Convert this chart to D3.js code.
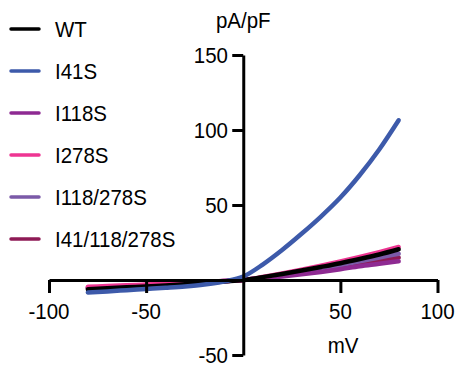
<!DOCTYPE html>
<html>
<head>
<meta charset="utf-8">
<script src="https://cdn.jsdelivr.net/npm/d3@7"></script>
<style>
  body { margin: 0; background: #fff; }
  svg text { font-family: "Liberation Sans", Arial, sans-serif; fill: #000; }
</style>
</head>
<body>
<svg id="chart" width="456" height="368"></svg>
<script>
// membrane potential (mV) at which each trace was read
const voltages = [-80, -70, -60, -50, -40, -30, -20, -10, 0, 10, 20, 30, 40, 50, 60, 70, 80];

// current density (pA/pF)
const wt        = [-6.2, -5.5, -4.9, -4.4, -3.7, -2.9, -2.0, -1.0, 0, 1.9, 4.0, 6.3, 8.7, 11.2, 14.0, 17.0, 20.5];
const i41s      = [-8.3, -7.6, -6.8, -6.0, -5.2, -4.3, -3.0, -1.0, 2.3, 10.3, 20, 30.8, 42.3, 55, 70, 87, 106.5];
const i118s     = [-5.3, -4.7, -4.1, -3.5, -2.9, -2.2, -1.5, -0.7, 0, 1.1, 2.4, 3.8, 5.4, 7.2, 9.2, 10.8, 12.5];
const i278s     = [-4.5, -4.0, -3.5, -3.0, -2.5, -1.9, -1.3, -0.6, 0, 2.0, 4.3, 6.8, 9.5, 12.4, 15.4, 18.6, 22];
const i118_278s = [-5.0, -4.5, -4.0, -3.4, -2.8, -2.1, -1.4, -0.7, 0, 1.6, 3.4, 5.4, 7.6, 10, 12.5, 15, 17.5];
const i41_118_278s = [-5.5, -4.9, -4.3, -3.7, -3.0, -2.3, -1.6, -0.8, 0, 1.4, 3.0, 4.8, 6.8, 9, 11.3, 13.1, 15];

const seriesNames = ["WT", "I41S", "I118S", "I278S", "I118/278S", "I41/118/278S"];
const seriesValues = [wt, i41s, i118s, i278s, i118_278s, i41_118_278s];
const seriesColors = ["#000000", "#3d5aaa", "#8e2a92", "#ee3592", "#7b5aa8", "#8e1a55"];

const xTicks = [-100, -50, 50, 100];
const yTicks = [-50, 50, 100, 150];

const svg = d3.select("#chart");

const x = d3.scaleLinear().domain([-100, 100]).range([49, 437.5]);
const y = d3.scaleLinear().domain([-50, 150]).range([355, 55]);

// small helper: text a bit taller than wide like the original
function label(txt, px, py, anchor) {
  svg.append("text")
    .attr("transform", `translate(${px},${py}) scale(1,1.1)`)
    .attr("text-anchor", anchor)
    .style("font-size", "20.5px")
    .text(txt);
}

// traces (draw order so that WT and I41S sit on top)
const line = d3.line()
  .x((d, i) => x(voltages[i]))
  .y(d => y(d))
  .curve(d3.curveMonotoneX);

const drawOrder = [5, 4, 2, 3, 0, 1];
drawOrder.forEach(k => {
  svg.append("path")
    .datum(seriesValues[k])
    .attr("d", line)
    .attr("fill", "none")
    .attr("stroke", seriesColors[k])
    .attr("stroke-width", 4.5)
    .attr("stroke-linecap", "round");
});

// axes crossing at the origin
const xAxis = svg.append("g")
  .attr("transform", `translate(0,${y(0)})`)
  .call(d3.axisBottom(x).tickValues(xTicks).tickSize(13).tickSizeOuter(0).tickFormat(""));

const yAxis = svg.append("g")
  .attr("transform", `translate(${x(0)},0)`)
  .call(d3.axisLeft(y).tickValues(yTicks).tickSize(11).tickSizeOuter(0).tickFormat(""));

[xAxis, yAxis].forEach(g => {
  g.select(".domain").attr("stroke", "#000").attr("stroke-width", 3);
  g.selectAll(".tick line").attr("stroke", "#000").attr("stroke-width", 3);
});

xTicks.forEach(v => label(v, x(v), 319, "middle"));
yTicks.forEach(v => label(v, 228, y(v) + 8, "end"));

label("pA/pF", x(0), 28, "middle");
label("mV", 343, 353, "middle");

// legend
seriesNames.forEach((name, i) => {
  const ly = 29 + i * 42;
  svg.append("line")
    .attr("x1", 11).attr("x2", 39)
    .attr("y1", ly).attr("y2", ly)
    .attr("stroke", seriesColors[i])
    .attr("stroke-width", 3.5)
    .attr("stroke-linecap", "round");
  label(name, 55, ly + 8, "start");
});
</script>
</body>
</html>
